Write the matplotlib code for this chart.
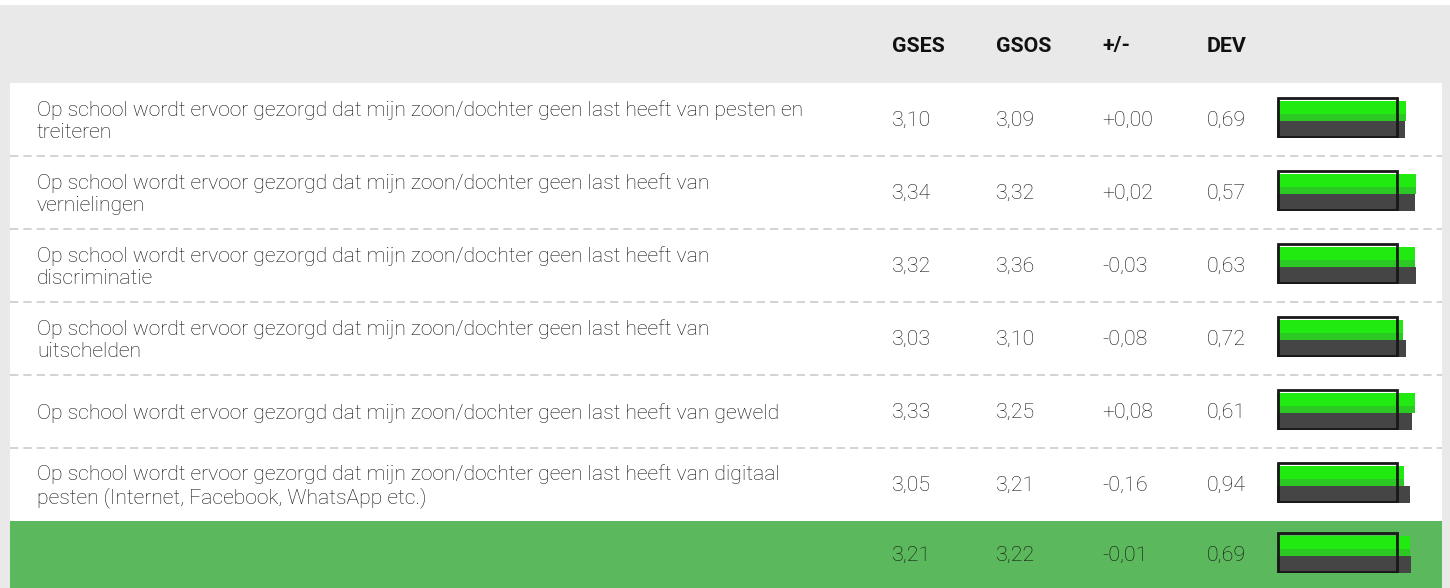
import matplotlib
matplotlib.use("Agg")
import matplotlib.pyplot as plt
from matplotlib.patches import Rectangle

# ---- data ----
questions = [
    "Op school wordt ervoor gezorgd dat mijn zoon/dochter geen last heeft van pesten en\ntreiteren",
    "Op school wordt ervoor gezorgd dat mijn zoon/dochter geen last heeft van\nvernielingen",
    "Op school wordt ervoor gezorgd dat mijn zoon/dochter geen last heeft van\ndiscriminatie",
    "Op school wordt ervoor gezorgd dat mijn zoon/dochter geen last heeft van\nuitschelden",
    "Op school wordt ervoor gezorgd dat mijn zoon/dochter geen last heeft van geweld",
    "Op school wordt ervoor gezorgd dat mijn zoon/dochter geen last heeft van digitaal\npesten (Internet, Facebook, WhatsApp etc.)",
    "",
]
gses = [3.10, 3.34, 3.32, 3.03, 3.33, 3.05, 3.21]
gsos = [3.09, 3.32, 3.36, 3.10, 3.25, 3.21, 3.22]
diff = [0.00, 0.02, -0.03, -0.08, 0.08, -0.16, -0.01]
dev = [0.69, 0.57, 0.63, 0.72, 0.61, 0.94, 0.69]
headers = ["GSES", "GSOS", "+/-", "DEV"]
frame_value = 2.93

W, H = 1450, 588
fig = plt.figure(figsize=(W / 100, H / 100), dpi=100)
ax = fig.add_axes([0, 0, 1, 1])
ax.set_xlim(0, W)
ax.set_ylim(H, 0)
ax.axis("off")

FONT = "Roboto"
GRAY_BG = "#e9e9e9"
TXT = "#111111"

# backgrounds
ax.add_patch(Rectangle((0, 5), W, H - 5, color=GRAY_BG, lw=0))
ax.add_patch(Rectangle((10, 83), 1432, H - 83, color="white", lw=0))

header_y = 46
col_x = [892, 996, 1102, 1207]
for x, h in zip(col_x, headers):
    ax.text(x, header_y, h, ha="left", va="center", fontsize=15.4,
            fontweight="bold", family=FONT, color="#111111")

row_top = 83
row_h = 73
n = len(gses)
for i in range(n):
    y0 = row_top + i * row_h
    y1 = min(y0 + row_h, H)
    yc = (y0 + y1) / 2
    total = i == n - 1
    if total:
        ax.add_patch(Rectangle((10, y0), 1432, y1 - y0, color="#5cb85c", lw=0))
    else:
        if i > 0:
            ax.plot([10, 1442], [y0, y0], color="#cccccc", lw=1.2,
                    dashes=(5, 3), solid_capstyle="butt")
        ax.text(37, yc + 1.5, questions[i], ha="left", va="center", fontsize=15.2,
                family=FONT, fontweight="light", color=TXT, linespacing=1.18)
    vals = [f"{gses[i]:.2f}", f"{gsos[i]:.2f}", f"{diff[i]:+.2f}", f"{dev[i]:.2f}"]
    for x, v in zip(col_x, vals):
        ax.text(x, yc + 1, v.replace(".", ","), ha="left", va="center",
                fontsize=15.4, family=FONT, fontweight="light", color=TXT)

    # mini bar chart
    bx0, bx1 = 1277, 1445
    fy0 = yc - 22.5
    fy1 = yc + 18.7
    bax = fig.add_axes([bx0 / W, 1 - fy1 / H, (bx1 - bx0) / W, (fy1 - fy0) / H])
    bax.set_xlim(0, (bx1 - bx0) / 41.5)
    bax.set_ylim(0, fy1 - fy0)
    bax.axis("off")
    bax.patch.set_alpha(0)
    gray_h = 17.2
    green_h = 20.0
    bax.barh([gray_h / 2], [gsos[i]], height=gray_h, color="#454545", lw=0)
    bax.barh([gray_h + green_h / 2], [gses[i]], height=green_h, color="#20ea10", lw=0)
    bax.barh([gray_h + 3.5], [gses[i]], height=7, color="#2cc823", lw=0)
    bax.add_patch(Rectangle((0.03, 1.35), frame_value - 0.06, (fy1 - fy0) - 2.7,
                            fill=False, edgecolor="#181818", lw=2.0))

fig.savefig("out.png", dpi=100)
